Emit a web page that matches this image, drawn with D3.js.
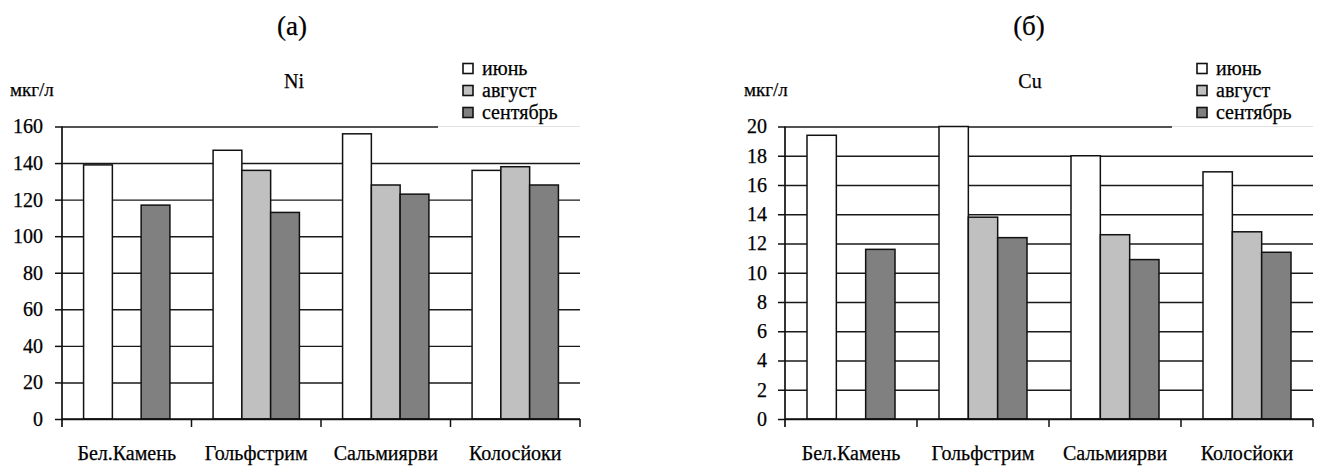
<!DOCTYPE html>
<html>
<head>
<meta charset="utf-8">
<script src="https://cdn.jsdelivr.net/npm/d3@7"></script>
<style>
  html, body { margin: 0; padding: 0; background: #fff; }
  svg { display: block; }
  text { font-family: "Liberation Serif", "DejaVu Serif", serif; fill: #000; stroke: #000; stroke-width: 0.25px; }
</style>
</head>
<body>
<svg id="chart" width="1319" height="468"></svg>
<script>
// ---- data ----
const categories = ["Бел.Камень", "Гольфстрим", "Сальмиярви", "Колосйоки"];
const months = ["июнь", "август", "сентябрь"];
const monthColors = ["#ffffff", "#c0c0c0", "#808080"];

const niJune = [139, 147, 156, 136];
const niAugust = [null, 136, 128, 138];
const niSeptember = [117, 113, 123, 128];

const cuJune = [19.4, 20, 18, 16.9];
const cuAugust = [null, 13.8, 12.6, 12.8];
const cuSeptember = [11.6, 12.4, 10.9, 11.4];

const niTicks = [0, 20, 40, 60, 80, 100, 120, 140, 160];
const cuTicks = [0, 2, 4, 6, 8, 10, 12, 14, 16, 18, 20];

const unitLabel = "мкг/л";
const FONT = '"Liberation Serif", "DejaVu Serif", serif';

const svg = d3.select("#chart");

function drawPanel(opt) {
  const g = svg.append("g");
  const x = d3.scaleBand().domain(categories).range([opt.x0, opt.x1]).paddingInner(0).paddingOuter(0);
  const y = d3.scaleLinear().domain([0, opt.ticks[opt.ticks.length - 1]]).range([419, 126.5]);
  const groupW = x.bandwidth() * 3 / 4.5;
  const inner = d3.scaleBand().domain(months).range([0, groupW]);
  const off = (x.bandwidth() - groupW) / 2;
  const yTop = y(opt.ticks[opt.ticks.length - 1]);

  g.append("text").attr("x", opt.letterX).attr("y", 35).attr("text-anchor", "middle")
    .style("font-size", "27px").style("font-family", FONT).text(opt.letter);
  g.append("text").attr("x", opt.titleX).attr("y", 88).attr("text-anchor", "middle")
    .style("font-size", "20px").style("font-family", FONT).text(opt.title);
  g.append("text").attr("x", opt.unitX).attr("y", 96)
    .style("font-size", "19px").style("font-family", FONT).text(unitLabel);

  // gridlines
  g.append("g").attr("transform", `translate(${opt.x0},0)`)
    .call(d3.axisLeft(y).tickValues(opt.ticks).tickSize(-(opt.x1 - opt.x0)).tickFormat(""))
    .call(s => s.select(".domain").remove())
    .call(s => s.selectAll(".tick line").attr("stroke", "#1a1a1a").attr("stroke-width", 1.4));

  // legend box (covers top gridline)
  const lg = g.append("g");
  lg.append("rect").attr("x", opt.legendX).attr("y", 58).attr("width", opt.x1 + 4 - opt.legendX)
    .attr("height", yTop + 1.5 - 58).attr("fill", "#fff");
  lg.append("line").attr("x1", opt.legendX).attr("x2", opt.x1)
    .attr("y1", yTop).attr("y2", yTop)
    .attr("stroke", "#e2e2e2").attr("stroke-width", 1.2);
  months.forEach((m, i) => {
    const cy = 68.5 + i * 22;
    lg.append("rect").attr("x", opt.legendX + 25).attr("y", cy - 5).attr("width", 10).attr("height", 10)
      .attr("fill", monthColors[i]).attr("stroke", "#111").attr("stroke-width", 1.6);
    lg.append("text").attr("x", opt.legendX + 44).attr("y", cy + 6)
      .style("font-size", "20px").style("font-family", FONT).text(m);
  });

  // bars
  opt.series.forEach((vals, si) => {
    g.append("g").selectAll("rect").data(categories.map((c, i) => ({ c, v: vals[i] })).filter(d => d.v != null))
      .join("rect")
      .attr("x", d => x(d.c) + off + inner(months[si]))
      .attr("width", inner.bandwidth())
      .attr("y", d => y(d.v))
      .attr("height", d => y(0) - y(d.v))
      .attr("fill", monthColors[si])
      .attr("stroke", "#111").attr("stroke-width", 1.5);
  });

  // y axis
  g.append("g").attr("transform", `translate(${opt.x0},0)`)
    .call(d3.axisLeft(y).tickValues(opt.ticks).tickSize(7).tickPadding(opt.tickPad).tickSizeOuter(0))
    .call(s => s.select(".domain").remove())
    .call(s => s.selectAll(".tick line").attr("stroke", "#111").attr("stroke-width", 1.5))
    .call(s => s.selectAll(".tick text").style("font-size", "20px")
      .style("font-family", FONT).attr("fill", "#000"));
  g.append("line").attr("x1", opt.x0).attr("x2", opt.x0).attr("y1", yTop)
    .attr("y2", 427).attr("stroke", "#111").attr("stroke-width", 1.7);

  // x axis
  g.append("line").attr("x1", opt.x0).attr("x2", opt.x1).attr("y1", y(0)).attr("y2", y(0))
    .attr("stroke", "#111").attr("stroke-width", 1.7);
  const bounds = categories.slice(1).map(c => x(c)).concat([opt.x1]);
  g.append("g").selectAll("line").data(bounds).join("line")
    .attr("x1", d => d).attr("x2", d => d).attr("y1", y(0)).attr("y2", 427)
    .attr("stroke", "#111").attr("stroke-width", 1.5);
  g.append("g").selectAll("text").data(categories).join("text")
    .attr("x", d => x(d) + x.bandwidth() / 2).attr("y", 460).attr("text-anchor", "middle")
    .style("font-size", "20px").style("font-family", FONT).text(d => d);
}

drawPanel({
  letter: "(а)", letterX: 292, title: "Ni", titleX: 294, unitX: 10,
  x0: 62, x1: 580, ticks: niTicks, tickPad: 12, legendX: 438,
  series: [niJune, niAugust, niSeptember]
});
drawPanel({
  letter: "(б)", letterX: 1029, title: "Cu", titleX: 1030, unitX: 744,
  x0: 785, x1: 1313, ticks: cuTicks, tickPad: 11, legendX: 1172,
  series: [cuJune, cuAugust, cuSeptember]
});
</script>
</body>
</html>
